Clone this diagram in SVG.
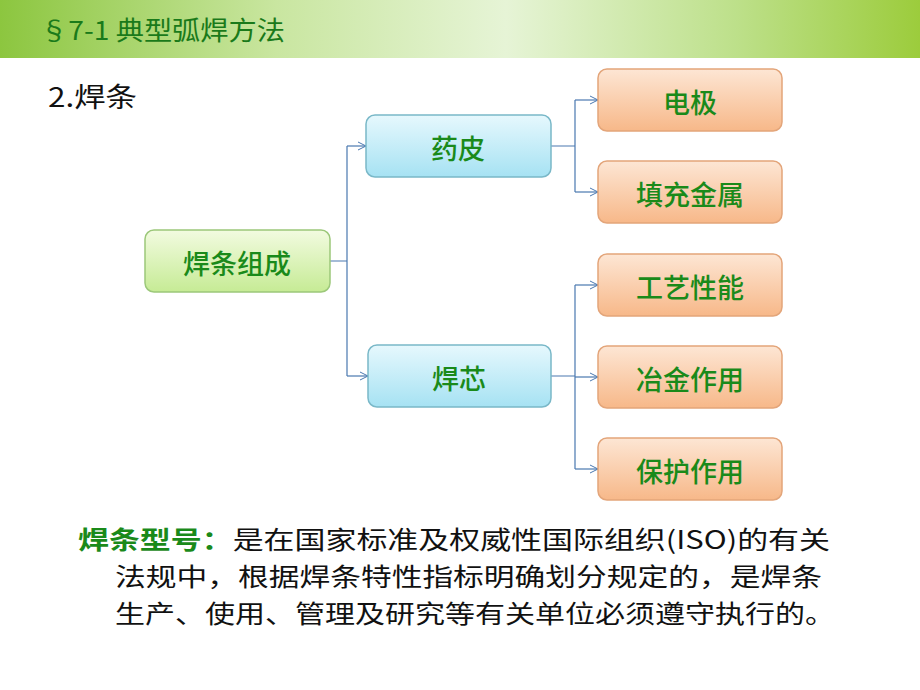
<svg xmlns="http://www.w3.org/2000/svg" width="920" height="690" viewBox="0 0 920 690">
<defs>
<linearGradient id="hdr" x1="0" y1="0" x2="1" y2="0">
<stop offset="0" stop-color="#8cc63f"/><stop offset="0.3" stop-color="#c9e6a0"/><stop offset="0.55" stop-color="#e6f4d6"/><stop offset="0.8" stop-color="#bde08a"/><stop offset="1" stop-color="#9ccc3c"/>
</linearGradient>
<linearGradient id="gG" x1="0" y1="0" x2="0" y2="1"><stop offset="0" stop-color="#f2fbe0"/><stop offset="1" stop-color="#c6eb95"/></linearGradient>
<linearGradient id="gB" x1="0" y1="0" x2="0" y2="1"><stop offset="0" stop-color="#e6f8fd"/><stop offset="1" stop-color="#a6e2f3"/></linearGradient>
<linearGradient id="gO" x1="0" y1="0" x2="0" y2="1"><stop offset="0" stop-color="#fde6d4"/><stop offset="1" stop-color="#f7b889"/></linearGradient>
<marker id="ar" markerWidth="10" markerHeight="10" refX="9" refY="5" orient="auto" markerUnits="userSpaceOnUse"><path d="M1,1 L9,5 L1,9" fill="none" stroke="#4a78b0" stroke-width="1"/></marker>
</defs>
<style>
.n{font-family:"Noto Sans CJK SC",sans-serif;font-size:27px;font-weight:500;fill:#1a8a1a;text-anchor:middle;dominant-baseline:central;}
.c{fill:none;stroke:#4a78b0;stroke-width:1.2;}
.g{fill:url(#gG);stroke:#9cc87a;stroke-width:1.5;}
.b{fill:url(#gB);stroke:#7ab8c8;stroke-width:1.5;}
.o{fill:url(#gO);stroke:#e3a57a;stroke-width:1.5;}
.p{font-family:"Noto Sans CJK SC",sans-serif;font-size:25px;fill:#111;}
</style>
<rect x="0" y="0" width="920" height="58" fill="url(#hdr)"/>
<text x="40" y="40" font-family="'Noto Sans CJK SC',sans-serif" font-size="26" fill="#1a7a1a" textLength="245" lengthAdjust="spacingAndGlyphs">§7-1 典型弧焊方法</text>
<text x="48" y="107" font-family="'Noto Sans CJK SC',sans-serif" font-size="27" fill="#111" textLength="89" lengthAdjust="spacingAndGlyphs">2.焊条</text>
<g id="connectors">
<path class="c" d="M330,261 H347 M347,146 V376"/>
<path class="c" d="M347,146 H366" marker-end="url(#ar)"/>
<path class="c" d="M347,376 H368" marker-end="url(#ar)"/>
<path class="c" d="M551,146 H575 M575,100 V192"/>
<path class="c" d="M575,100 H598" marker-end="url(#ar)"/>
<path class="c" d="M575,192 H598" marker-end="url(#ar)"/>
<path class="c" d="M551,376 H575 M575,285 V469"/>
<path class="c" d="M575,285 H598" marker-end="url(#ar)"/>
<path class="c" d="M575,377 H598" marker-end="url(#ar)"/>
<path class="c" d="M575,469 H598" marker-end="url(#ar)"/>
</g>
<g id="n0"><rect class="g" x="145" y="230" width="185" height="62" rx="9"/><text class="n" x="237" y="262">焊条组成</text></g>
<g id="n1"><rect class="b" x="366" y="115" width="185" height="62" rx="9"/><text class="n" x="458" y="147">药皮</text></g>
<g id="n2"><rect class="b" x="368" y="345" width="183" height="62" rx="9"/><text class="n" x="459" y="377">焊芯</text></g>
<g id="n3"><rect class="o" x="598" y="69" width="184" height="62" rx="9"/><text class="n" x="690" y="101">电极</text></g>
<g id="n4"><rect class="o" x="598" y="161" width="184" height="62" rx="9"/><text class="n" x="690" y="193">填充金属</text></g>
<g id="n5"><rect class="o" x="598" y="254" width="184" height="62" rx="9"/><text class="n" x="690" y="286">工艺性能</text></g>
<g id="n6"><rect class="o" x="598" y="346" width="184" height="62" rx="9"/><text class="n" x="690" y="378">冶金作用</text></g>
<g id="n7"><rect class="o" x="598" y="438" width="184" height="62" rx="9"/><text class="n" x="690" y="470">保护作用</text></g>
<text class="p" x="78" y="549" textLength="752" lengthAdjust="spacingAndGlyphs"><tspan fill="#1a8a1a" font-weight="bold">焊条型号：</tspan>是在国家标准及权威性国际组织(ISO)的有关</text>
<text class="p" x="115" y="586" textLength="707" lengthAdjust="spacingAndGlyphs">法规中，根据焊条特性指标明确划分规定的，是焊条</text>
<text class="p" x="115" y="623" textLength="720" lengthAdjust="spacingAndGlyphs">生产、使用、管理及研究等有关单位必须遵守执行的。</text>
</svg>
